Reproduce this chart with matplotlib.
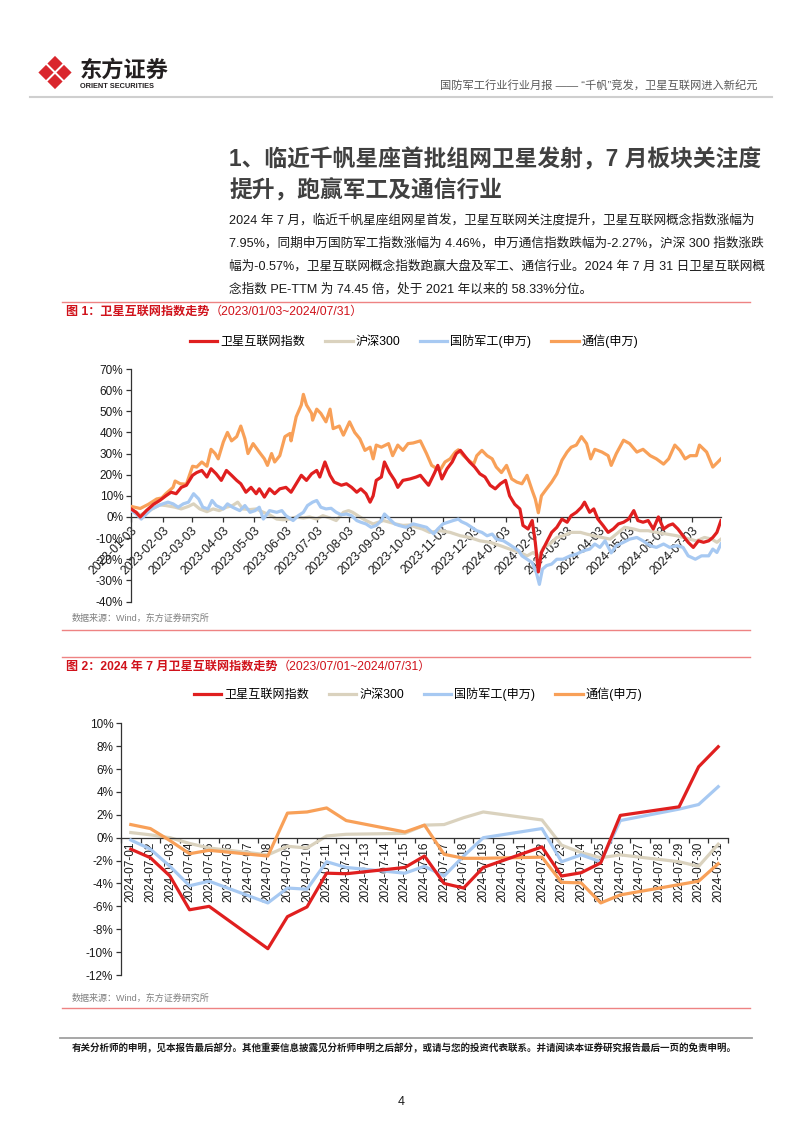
import matplotlib
matplotlib.use('Agg')
import matplotlib.pyplot as plt
import matplotlib.dates as mdates
from matplotlib.patches import Polygon
from matplotlib.ticker import FixedLocator, FixedFormatter, FuncFormatter, NullFormatter
import pandas as pd

plt.rcParams['font.family'] = ['Liberation Sans', 'Noto Sans CJK SC', 'DejaVu Sans']
plt.rcParams['axes.unicode_minus'] = False

W, H = 802, 1133

NAMES = ['卫星互联网指数', '沪深300', '国防军工(申万)', '通信(申万)']
COLORS = ['#e01f1f', '#dad2be', '#a7c9f2', '#f8a058']
ZORDERS = [5, 2, 3, 4]

# ---- 图1: 2023/01/03 ~ 2024/07/31, cumulative change (%)
sat_dates = ['2023-01-03', '2023-01-08', '2023-01-12', '2023-01-18', '2023-01-25', '2023-01-31',
             '2023-02-06', '2023-02-11', '2023-02-16', '2023-02-21', '2023-02-26', '2023-03-04',
             '2023-03-08', '2023-03-13', '2023-03-18', '2023-03-22', '2023-03-27', '2023-04-01',
             '2023-04-06', '2023-04-11', '2023-04-16', '2023-04-20', '2023-04-25', '2023-04-30',
             '2023-05-05', '2023-05-08', '2023-05-13', '2023-05-18', '2023-05-23', '2023-05-28',
             '2023-06-03', '2023-06-08', '2023-06-13', '2023-06-18', '2023-06-23', '2023-06-28',
             '2023-07-03', '2023-07-06', '2023-07-11', '2023-07-16', '2023-07-20', '2023-07-27',
             '2023-08-01', '2023-08-06', '2023-08-11', '2023-08-15', '2023-08-20', '2023-08-24',
             '2023-08-27', '2023-08-30', '2023-09-04', '2023-09-07', '2023-09-12', '2023-09-17',
             '2023-09-20', '2023-09-25', '2023-10-02', '2023-10-08', '2023-10-12', '2023-10-16',
             '2023-10-20', '2023-10-23', '2023-10-26', '2023-10-29', '2023-11-02', '2023-11-07',
             '2023-11-12', '2023-11-16', '2023-11-20', '2023-11-25', '2023-11-29', '2023-12-04',
             '2023-12-09', '2023-12-14', '2023-12-19', '2023-12-24', '2023-12-29', '2024-01-03',
             '2024-01-07', '2024-01-12', '2024-01-17', '2024-01-20', '2024-01-25', '2024-01-29',
             '2024-02-01', '2024-02-04', '2024-02-07', '2024-02-12', '2024-02-17', '2024-02-22',
             '2024-02-27', '2024-03-03', '2024-03-07', '2024-03-12', '2024-03-17', '2024-03-20',
             '2024-03-25', '2024-03-29', '2024-04-02', '2024-04-07', '2024-04-12', '2024-04-17',
             '2024-04-22', '2024-04-27', '2024-05-02', '2024-05-07', '2024-05-11', '2024-05-16',
             '2024-05-21', '2024-05-26', '2024-05-31', '2024-06-05', '2024-06-10', '2024-06-14',
             '2024-06-19', '2024-06-24', '2024-06-29', '2024-07-04', '2024-07-09', '2024-07-14',
             '2024-07-19', '2024-07-23', '2024-07-27', '2024-07-31']
sat_vals = [3.8, 2.2, 0.0, 3.0, 6.0, 7.8,
            10.0, 11.7, 11.0, 14.0, 15.0, 19.7,
            21.0, 22.0, 18.9, 22.8, 20.4, 17.3,
            22.0, 19.7, 17.3, 15.7, 11.7, 14.0,
            11.0, 13.3, 9.4, 13.3, 11.0, 13.3,
            14.0, 11.7, 15.7, 19.7, 17.3, 20.4,
            22.0, 18.9, 26.0, 19.7, 16.5, 15.0,
            15.7, 14.0, 11.7, 13.3, 11.0, 7.0,
            10.0, 17.3, 18.9, 26.0, 21.0, 17.3,
            14.0, 17.3, 18.0, 18.9, 19.7, 17.3,
            15.0, 18.0, 21.0, 24.4, 18.0, 22.8,
            26.0, 30.0, 31.5, 28.4, 26.0, 23.6,
            20.4, 18.9, 15.0, 13.3, 15.7, 17.3,
            10.0, 6.0, 3.8, -4.0, -5.7, -1.7,
            -12.0, -26.0, -16.8, -12.0, -7.3, -4.9,
            -1.0, -2.5, 0.6, 2.2, 4.6, 7.0,
            2.2, 3.8, -1.0, -4.0, -7.3, -5.7,
            -3.3, -2.5, -1.0, 3.0, -1.7, -2.5,
            -1.7, -5.7, 0.0, -5.7, -4.0, -3.3,
            -5.7, -8.9, -12.0, -14.4, -11.3, -12.0,
            -11.3, -9.7, -7.3, -1.7]

hs_dates = ['2023-01-03', '2023-01-12', '2023-01-18', '2023-01-25', '2023-01-31', '2023-02-06',
            '2023-02-15', '2023-02-21', '2023-02-28', '2023-03-05', '2023-03-11', '2023-03-18',
            '2023-03-24', '2023-03-30', '2023-04-06', '2023-04-12', '2023-04-17', '2023-04-22',
            '2023-04-29', '2023-05-05', '2023-05-12', '2023-05-18', '2023-05-25', '2023-05-31',
            '2023-06-07', '2023-06-13', '2023-06-20', '2023-06-26', '2023-07-03', '2023-07-09',
            '2023-07-16', '2023-07-22', '2023-07-29', '2023-08-03', '2023-08-07', '2023-08-14',
            '2023-08-20', '2023-08-27', '2023-09-01', '2023-09-06', '2023-09-12', '2023-09-18',
            '2023-09-25', '2023-10-02', '2023-10-08', '2023-10-14', '2023-10-21', '2023-10-31',
            '2023-11-10', '2023-11-20', '2023-11-29', '2023-12-09', '2023-12-19', '2023-12-29',
            '2024-01-07', '2024-01-17', '2024-01-24', '2024-01-30', '2024-02-04', '2024-02-09',
            '2024-02-15', '2024-02-22', '2024-02-28', '2024-03-07', '2024-03-16', '2024-03-22',
            '2024-03-29', '2024-04-06', '2024-04-14', '2024-04-20', '2024-04-28', '2024-05-07',
            '2024-05-13', '2024-05-21', '2024-05-29', '2024-06-08', '2024-06-18', '2024-06-27',
            '2024-07-07', '2024-07-15', '2024-07-22', '2024-07-27', '2024-07-31']
hs_vals = [3.8, 1.0, 2.2, 4.1, 5.7, 5.4,
           4.6, 3.8, 5.0, 6.2, 3.8, 2.5,
           3.8, 3.0, 4.6, 5.4, 7.0, 3.8,
           3.5, 3.8, 2.2, 1.0, -1.0, -1.3,
           -1.0, 0.0, -0.5, 0.0, -1.0, 0.6,
           -0.5, -1.7, 2.2, 3.0, 2.2, 0.0,
           -1.7, -3.3, -2.5, -1.7, -2.5, -3.3,
           -4.0, -3.8, -4.9, -5.7, -7.3, -6.5,
           -7.3, -8.9, -9.7, -11.3, -12.0, -13.6,
           -15.2, -16.8, -18.4, -16.8, -19.2, -14.4,
           -12.8, -9.7, -8.9, -7.3, -7.3, -8.1,
           -8.9, -9.7, -10.5, -8.1, -4.9, -5.7,
           -6.5, -6.5, -7.3, -8.1, -8.9, -10.1,
           -11.3, -9.7, -10.5, -12.0, -10.5]

def_dates = ['2023-01-03', '2023-01-08', '2023-01-13', '2023-01-18', '2023-01-23', '2023-01-30',
             '2023-02-03', '2023-02-08', '2023-02-13', '2023-02-18', '2023-02-23', '2023-02-28',
             '2023-03-05', '2023-03-10', '2023-03-14', '2023-03-19', '2023-03-23', '2023-03-27',
             '2023-04-03', '2023-04-07', '2023-04-12', '2023-04-19', '2023-04-24', '2023-04-29',
             '2023-05-04', '2023-05-08', '2023-05-12', '2023-05-18', '2023-05-25', '2023-05-30',
             '2023-06-03', '2023-06-10', '2023-06-15', '2023-06-20', '2023-06-24', '2023-06-29',
             '2023-07-03', '2023-07-07', '2023-07-12', '2023-07-17', '2023-07-22', '2023-07-27',
             '2023-08-01', '2023-08-06', '2023-08-11', '2023-08-15', '2023-08-20', '2023-08-25',
             '2023-08-30', '2023-09-04', '2023-09-07', '2023-09-12', '2023-09-17', '2023-09-21',
             '2023-09-28', '2023-10-05', '2023-10-11', '2023-10-18', '2023-10-25', '2023-10-29',
             '2023-11-03', '2023-11-08', '2023-11-13', '2023-11-18', '2023-11-21', '2023-11-26',
             '2023-12-01', '2023-12-06', '2023-12-11', '2023-12-16', '2023-12-21', '2023-12-25',
             '2024-01-01', '2024-01-06', '2024-01-11', '2024-01-16', '2024-01-19', '2024-01-24',
             '2024-01-29', '2024-02-02', '2024-02-05', '2024-02-08', '2024-02-12', '2024-02-17',
             '2024-02-22', '2024-02-28', '2024-03-06', '2024-03-12', '2024-03-19', '2024-03-25',
             '2024-03-30', '2024-04-04', '2024-04-09', '2024-04-15', '2024-04-20', '2024-04-27',
             '2024-05-03', '2024-05-10', '2024-05-16', '2024-05-23', '2024-05-29', '2024-06-05',
             '2024-06-11', '2024-06-18', '2024-06-24', '2024-06-29', '2024-07-06', '2024-07-12',
             '2024-07-19', '2024-07-23', '2024-07-27', '2024-07-31']
def_vals = [3.0, 1.4, -1.0, 1.4, 3.8, 5.4,
            6.2, 7.0, 6.2, 4.6, 6.2, 7.0,
            11.0, 8.5, 4.6, 3.8, 7.8, 5.4,
            3.8, 6.2, 4.6, 3.0, 5.4, 2.2,
            3.0, 4.6, -1.0, 3.0, 2.2, 3.0,
            0.6, -1.7, 0.6, 2.2, 5.4, 7.0,
            7.8, 4.6, 3.8, 4.1, 2.2, 1.0,
            1.4, 0.6, -1.7, -2.5, -3.3, -4.9,
            -4.0, -1.7, 1.4, -1.0, -3.3, -4.0,
            -4.9, -3.3, -4.0, -4.9, -8.0, -5.7,
            -3.3, -2.5, -1.7, -1.0, -2.2, -3.3,
            -4.9, -6.5, -7.3, -8.9, -8.1, -10.5,
            -11.3, -12.8, -14.4, -16.0, -18.4, -20.0,
            -21.6, -26.3, -31.9, -24.7, -23.0, -22.3,
            -20.0, -20.0, -18.4, -17.6, -16.0, -15.2,
            -12.8, -14.4, -11.3, -17.0, -13.6, -12.0,
            -10.5, -9.7, -11.3, -13.6, -14.4, -12.8,
            -14.4, -13.6, -14.4, -18.4, -20.0, -18.4,
            -18.4, -15.2, -16.8, -12.8]

tel_dates = ['2023-01-03', '2023-01-12', '2023-01-20', '2023-01-28', '2023-02-02', '2023-02-06',
             '2023-02-13', '2023-02-15', '2023-02-20', '2023-02-26', '2023-03-04', '2023-03-08',
             '2023-03-13', '2023-03-18', '2023-03-22', '2023-03-26', '2023-03-29', '2023-04-03',
             '2023-04-07', '2023-04-11', '2023-04-16', '2023-04-20', '2023-04-24', '2023-04-27',
             '2023-05-02', '2023-05-08', '2023-05-13', '2023-05-16', '2023-05-20', '2023-05-23',
             '2023-05-28', '2023-06-02', '2023-06-07', '2023-06-08', '2023-06-13', '2023-06-18',
             '2023-06-20', '2023-06-23', '2023-06-28', '2023-06-29', '2023-07-03', '2023-07-07',
             '2023-07-12', '2023-07-16', '2023-07-19', '2023-07-25', '2023-07-29', '2023-08-04',
             '2023-08-09', '2023-08-14', '2023-08-19', '2023-08-24', '2023-08-27', '2023-08-30',
             '2023-09-04', '2023-09-11', '2023-09-15', '2023-09-20', '2023-09-25', '2023-09-30',
             '2023-10-05', '2023-10-12', '2023-10-18', '2023-10-23', '2023-10-31', '2023-11-05',
             '2023-11-10', '2023-11-15', '2023-11-18', '2023-11-23', '2023-11-28', '2023-12-03',
             '2023-12-06', '2023-12-11', '2023-12-16', '2023-12-21', '2023-12-25', '2023-12-30',
             '2024-01-04', '2024-01-09', '2024-01-14', '2024-01-19', '2024-01-24', '2024-01-29',
             '2024-02-01', '2024-02-04', '2024-02-07', '2024-02-12', '2024-02-17', '2024-02-22',
             '2024-02-27', '2024-03-03', '2024-03-07', '2024-03-12', '2024-03-17', '2024-03-22',
             '2024-03-26', '2024-03-30', '2024-04-06', '2024-04-12', '2024-04-15', '2024-04-20',
             '2024-04-27', '2024-05-03', '2024-05-10', '2024-05-16', '2024-05-23', '2024-05-29',
             '2024-06-05', '2024-06-10', '2024-06-16', '2024-06-21', '2024-06-26', '2024-07-01',
             '2024-07-07', '2024-07-10', '2024-07-17', '2024-07-23', '2024-07-28', '2024-07-31']
tel_vals = [5.0, 4.0, 6.0, 8.5, 9.0, 11.0,
            14.0, 17.0, 15.7, 15.5, 24.0, 23.6,
            26.0, 24.0, 32.0, 30.0, 27.5, 35.5,
            40.0, 36.0, 38.0, 43.0, 37.0, 30.0,
            34.7, 30.7, 27.5, 24.4, 30.0, 26.0,
            29.0, 38.0, 39.5, 36.0, 47.4, 53.0,
            58.0, 53.0, 49.0, 45.8, 51.0, 49.0,
            45.0, 51.0, 41.8, 43.0, 38.7, 45.0,
            40.0, 37.0, 31.5, 33.0, 27.5, 34.0,
            33.0, 34.7, 29.0, 34.0, 31.5, 34.7,
            35.0, 36.0, 30.0, 24.4, 22.0, 26.0,
            27.5, 30.7, 31.8, 29.0, 26.8, 25.0,
            29.0, 31.5, 29.0, 27.5, 23.6, 21.0,
            24.4, 18.0, 16.5, 15.7, 19.7, 12.5,
            8.5, 2.0, 10.0, 13.3, 16.5, 20.4,
            26.8, 30.7, 33.0, 34.0, 38.0, 34.7,
            27.5, 32.0, 30.7, 29.0, 24.4, 30.0,
            36.3, 34.7, 30.7, 32.0, 29.0, 27.5,
            25.0, 27.5, 34.0, 31.5, 27.5, 29.0,
            29.0, 34.0, 30.7, 23.6, 26.0, 27.5]

# ---- 图2: July 2024 trading days, change (%)
jul_dates = ['2024-07-01', '2024-07-02', '2024-07-03', '2024-07-04', '2024-07-05', '2024-07-08',
             '2024-07-09', '2024-07-10', '2024-07-11', '2024-07-12', '2024-07-15', '2024-07-16',
             '2024-07-17', '2024-07-18', '2024-07-19', '2024-07-22', '2024-07-23', '2024-07-24',
             '2024-07-25', '2024-07-26', '2024-07-29', '2024-07-30', '2024-07-31']
jul_sat = [-1.0, -1.75, -3.35, -6.3, -6.0, -9.7, -6.9, -6.05, -3.1, -3.15, -2.6, -1.6,
           -4.0, -4.4, -2.6, -0.8, -3.35, -3.06, -2.2, 1.95, 2.7, 6.2, 7.95]
jul_hs = [0.45, 0.25, 0.0, -0.5, -0.9, -1.5, -0.75, -0.9, 0.15, 0.3, 0.38, 1.1,
          1.15, 1.75, 2.25, 1.55, -0.65, -1.3, -1.75, -1.5, -2.1, -2.5, -0.57]
jul_def = [-0.2, -1.0, -2.5, -4.2, -3.8, -5.7, -4.4, -4.5, -2.1, -2.6, -3.1, -2.5,
           -3.35, -1.6, 0.0, 0.8, -2.1, -1.5, -2.1, 1.5, 2.5, 2.9, 4.46]
jul_tel = [1.15, 0.8, -0.25, -1.4, -1.1, -1.6, 2.15, 2.25, 2.6, 1.5, 0.5, 1.1,
           -1.45, -1.8, -1.8, -1.7, -3.9, -3.95, -5.7, -5.0, -4.1, -3.8, -2.27]
jul_labels = [d.strftime('%Y-%m-%d') for d in pd.date_range('2024-07-01', '2024-07-31')]

para_lines = [
    '2024 年 7 月，临近千帆星座组网星首发，卫星互联网关注度提升，卫星互联网概念指数涨幅为',
    '7.95%，同期申万国防军工指数涨幅为 4.46%，申万通信指数跌幅为-2.27%，沪深 300 指数涨跌',
    '幅为-0.57%，卫星互联网概念指数跑赢大盘及军工、通信行业。2024 年 7 月 31 日卫星互联网概',
    '念指数 PE-TTM 为 74.45 倍，处于 2021 年以来的 58.33%分位。',
]

fig = plt.figure(figsize=(W / 100, H / 100), dpi=100)
fig.patch.set_facecolor('white')

page = fig.add_axes([0, 0, 1, 1], zorder=0)
page.set_xlim(0, W)
page.set_ylim(H, 0)
page.axis('off')


def px_axes(left, top, right, bottom):
    ax = fig.add_axes([left / W, 1 - bottom / H, (right - left) / W, (bottom - top) / H], zorder=2)
    ax.set_facecolor('none')
    return ax


def style_axes(ax):
    for s in ['top', 'right']:
        ax.spines[s].set_visible(False)
    ax.spines['bottom'].set_position(('data', 0))
    for s in ['left', 'bottom']:
        ax.spines[s].set_color('#333333')
        ax.spines[s].set_linewidth(0.9)
    ax.tick_params(axis='both', direction='out', length=3.5, width=0.9,
                   colors='#333333', labelcolor='#1a1a1a', labelsize=8.5, pad=2)
    ax.yaxis.set_major_formatter(FuncFormatter(lambda v, p: f'{v:.0f}%'))


# ---------- header ----------
cx, cy, d, h = 55, 72.5, 9.0, 7.6
for ox, oy in [(0, -d), (-d, 0), (d, 0), (0, d)]:
    x0, y0 = cx + ox, cy + oy
    page.add_patch(Polygon([(x0, y0 - h), (x0 + h, y0), (x0, y0 + h), (x0 - h, y0)],
                           closed=True, color='#d9262d', lw=0))
page.text(80, 71, '东方证券', fontsize=16, fontweight='bold', color='#231f20', va='center')
page.text(80, 87, 'ORIENT SECURITIES', fontsize=5.3, fontweight='bold', color='#231f20', va='center')
page.text(757, 86, '国防军工行业行业月报 —— “千帆”竞发，卫星互联网进入新纪元',
          fontsize=8.1, color='#595959', ha='right', va='center')
page.plot([30, 772], [97, 97], color='#cfcfcf', lw=1.5)

# ---------- section title & paragraph ----------
page.text(229, 160, '1、临近千帆星座首批组网卫星发射，7 月板块关注度', fontsize=16.4,
          fontweight='bold', color='#404040', va='center')
page.text(229, 191, '提升，跑赢军工及通信行业', fontsize=16.4,
          fontweight='bold', color='#404040', va='center')
for i, line in enumerate(para_lines):
    page.text(229, 220 + i * 23, line, fontsize=9.1, color='#1a1a1a', va='center')

renderer = fig.canvas.get_renderer()


def fig_title(y, bold_part, rest):
    t = page.text(66, y, bold_part, fontsize=8.7, fontweight='bold', color='#d0121b', va='center')
    bb = t.get_window_extent(renderer)
    page.text(bb.x1, y, rest, fontsize=8.7, color='#d0121b', va='center')


# ---------- 图1 ----------
page.plot([62, 750], [302, 302], color='#ee8383', lw=1.0)
fig_title(312, '图 1：卫星互联网指数走势', '（2023/01/03~2024/07/31）')

ax1 = px_axes(131, 369, 721, 601.5)
series1 = [(sat_dates, sat_vals), (hs_dates, hs_vals), (def_dates, def_vals), (tel_dates, tel_vals)]
for (dates, vals), name, color, z in zip(series1, NAMES, COLORS, ZORDERS):
    ax1.plot(pd.to_datetime(dates), vals, color=color, lw=2.3, label=name, zorder=z,
             solid_joinstyle='round')
ax1.set_xlim(pd.Timestamp('2023-01-03'), pd.Timestamp('2024-07-31'))
ax1.set_ylim(-40, 70)
ax1.yaxis.set_major_locator(FixedLocator(list(range(-40, 71, 10))))
ax1.xaxis.set_major_locator(mdates.MonthLocator(bymonthday=3))
ax1.xaxis.set_major_formatter(mdates.DateFormatter('%Y-%m-%d'))
style_axes(ax1)
ax1.tick_params(axis='x', labelsize=8.8)
for lab in ax1.get_xticklabels():
    lab.set_rotation(45)
    lab.set_ha('right')
    lab.set_va('top')
    lab.set_rotation_mode('anchor')
ax1.legend(loc='center', bbox_to_anchor=(414 / W, 1 - 341 / H), bbox_transform=fig.transFigure,
           ncol=4, frameon=False, fontsize=8.7, handlelength=2.3, handletextpad=0.25,
           columnspacing=1.6, borderaxespad=0, borderpad=0)
page.text(72, 618, '数据来源：Wind，东方证券研究所', fontsize=6.5, color='#808080', va='center')
page.plot([62, 750], [630, 630], color='#ee8383', lw=1.0)

# ---------- 图2 ----------
page.plot([62, 750], [657, 657], color='#ee8383', lw=1.0)
fig_title(667, '图 2：2024 年 7 月卫星互联网指数走势', '（2023/07/01~2024/07/31）')

ax2 = px_axes(121, 723.3, 728, 975)
xpos = (pd.to_datetime(jul_dates) - pd.Timestamp('2024-07-01')).days
series2 = [jul_sat, jul_hs, jul_def, jul_tel]
for vals, name, color, z in zip(series2, NAMES, COLORS, ZORDERS):
    ax2.plot(xpos, vals, color=color, lw=2.3, label=name, zorder=z, solid_joinstyle='round')
ax2.set_xlim(-0.5, 30.5)
ax2.set_ylim(-12, 10)
ax2.yaxis.set_major_locator(FixedLocator(list(range(-12, 11, 2))))
ax2.xaxis.set_major_locator(FixedLocator([i - 0.5 for i in range(len(jul_labels) + 1)]))
ax2.xaxis.set_major_formatter(NullFormatter())
ax2.xaxis.set_minor_locator(FixedLocator(list(range(len(jul_labels)))))
ax2.xaxis.set_minor_formatter(FixedFormatter(jul_labels))
style_axes(ax2)
ax2.tick_params(axis='x', which='minor', length=0, labelrotation=90, labelsize=8.5,
                labelcolor='#1a1a1a', pad=3)
ax2.legend(loc='center', bbox_to_anchor=(418 / W, 1 - 694 / H), bbox_transform=fig.transFigure,
           ncol=4, frameon=False, fontsize=8.7, handlelength=2.3, handletextpad=0.25,
           columnspacing=1.6, borderaxespad=0, borderpad=0)
page.text(72, 998, '数据来源：Wind，东方证券研究所', fontsize=6.5, color='#808080', va='center')
page.plot([62, 750], [1008, 1008], color='#ee8383', lw=1.0)

# ---------- footer ----------
page.plot([60, 752], [1038, 1038], color='#a0a0a0', lw=1.3)
page.text(72, 1048, '有关分析师的申明，见本报告最后部分。其他重要信息披露见分析师申明之后部分，'
          '或请与您的投资代表联系。并请阅读本证券研究报告最后一页的免责申明。',
          fontsize=6.85, fontweight='bold', color='#1a1a1a', va='center')
page.text(401, 1102, '4', fontsize=9, color='#1a1a1a', ha='center', va='center')

fig.savefig('out.png', dpi=100, facecolor='white')
